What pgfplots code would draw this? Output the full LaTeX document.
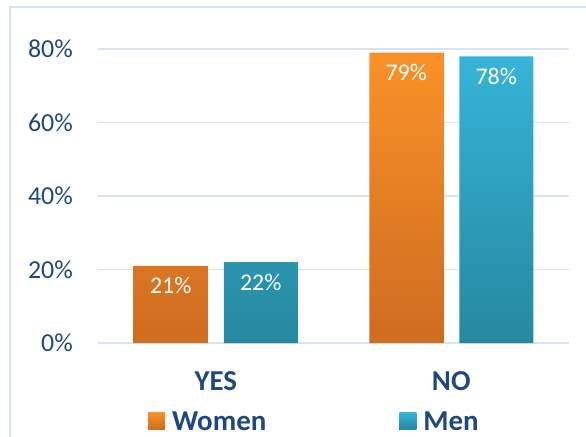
\documentclass[border=0pt]{standalone}
\usepackage{pgfplots}
\pgfplotsset{compat=1.18}
\usepackage{fontspec}
\setmainfont{Carlito}
\definecolor{txtblue}{RGB}{31,73,125}
\definecolor{gridc}{RGB}{217,227,242}
\definecolor{frame}{RGB}{214,226,242}
\definecolor{orTop}{RGB}{250,145,40}
\definecolor{orBot}{RGB}{206,108,32}
\definecolor{blTop}{RGB}{54,180,216}
\definecolor{blBot}{RGB}{38,136,160}
\begin{document}
\begin{tikzpicture}
\useasboundingbox (-98bp,-94bp) rectangle (488bp,343bp);
\draw[frame, line width=1.5bp] (-88bp,-120bp) -- (-88bp,336bp) -- (520bp,336bp);
\begin{axis}[
  at={(0,0)}, anchor=south west,
  scale only axis, width=471bp, height=294bp,
  xmin=-0.5, xmax=1.5, ymin=0, ymax=80,
  axis line style={draw=none},
  xtick={0,1}, xticklabels={YES,NO},
  ytick={0,20,40,60,80},
  yticklabel={\pgfmathprintnumber{\tick}\%},
  major tick length=0pt,
  ymajorgrids, grid style={gridc, line width=1.5bp},
  yticklabel style={font=\fontsize{26}{30}\selectfont, text=txtblue, anchor=east, inner sep=0pt, xshift=-25bp},
  xticklabel style={font=\fontsize{29}{32}\selectfont\bfseries, text=txtblue, anchor=base, inner sep=0pt, yshift=-47bp},
  /pgf/number format/assume math mode=true,
  ybar=16bp, bar width=74bp,
  nodes near coords={\pgfmathprintnumber{\pgfplotspointmeta}\%},
  every node near coord/.append style={font=\fontsize{24}{27}\selectfont, text=white, anchor=center, yshift=-20bp},
  legend style={draw=none, fill=none, at={(50bp,-78bp)}, anchor=west, inner sep=0pt,
    nodes={inner sep=0pt, text depth=0pt, text=txtblue, font=\fontsize{29}{32}\selectfont\bfseries},
    /tikz/every even column/.append style={column sep=133bp},
    /tikz/every odd column/.append style={column sep=7bp}},
  legend columns=2,
  legend image code/.code={\fill[#1] (0bp,-8.5bp) rectangle (17bp,8.5bp);},
]
\addplot[draw=none, top color=orTop, bottom color=orBot] coordinates {(0,21) (1,79)};
\addplot[draw=none, top color=blTop, bottom color=blBot] coordinates {(0,22) (1,78)};
\legend{Women, Men}
\end{axis}
\end{tikzpicture}
\end{document}
